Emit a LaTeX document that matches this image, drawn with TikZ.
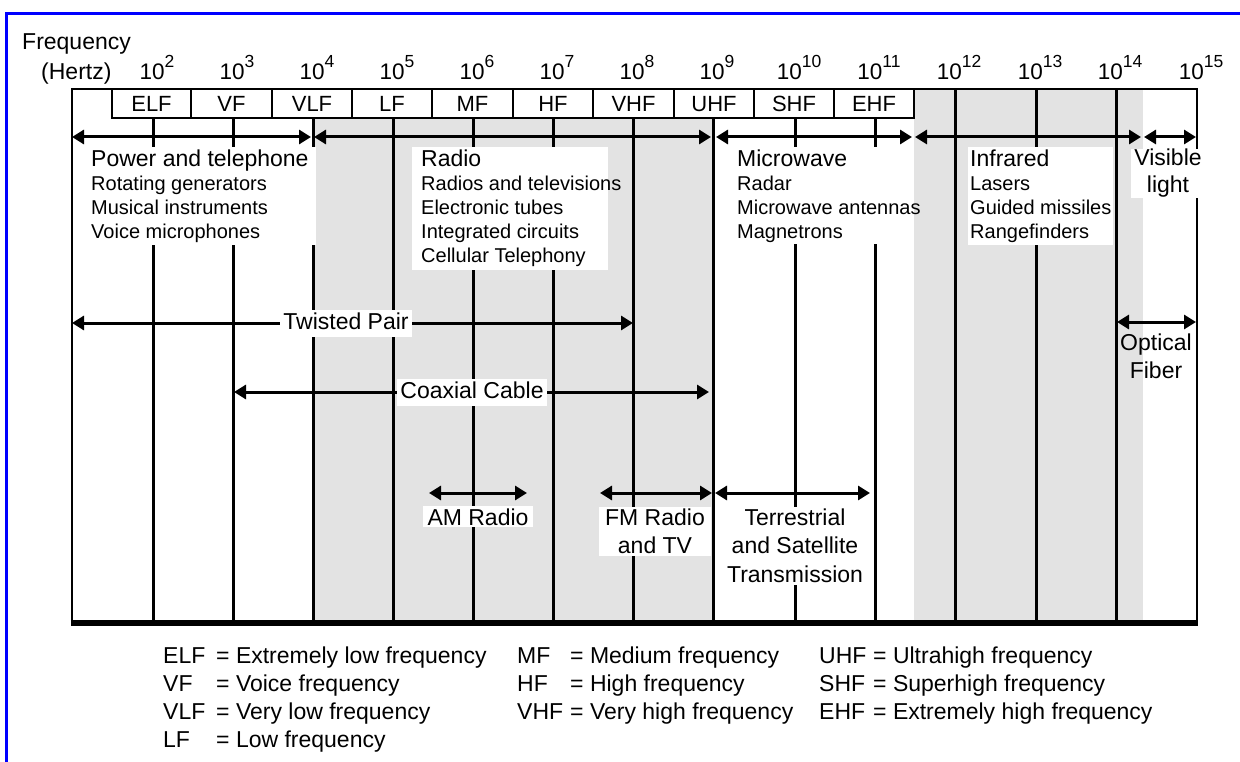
\documentclass[tikz,border=0pt]{standalone}
\usepackage{fontspec}
\setmainfont{Liberation Sans}
\usetikzlibrary{arrows.meta}
\definecolor{bandgray}{RGB}{227,227,227}
\definecolor{frameblue}{RGB}{0,0,255}
\newcommand\FontHead{\fontsize{23}{24}\selectfont}
\newcommand\FontSub{\fontsize{20}{24}\selectfont}
\newcommand\FontLab{\fontsize{23}{28.5}\selectfont}
\newcommand\FontBand{\fontsize{22}{24}\selectfont}
\newcommand\FontDec{\fontsize{22.5}{24}\selectfont}
\newcommand\FontExp{\fontsize{17.5}{18}\selectfont}
\begin{document}
\begin{tikzpicture}[x=1pt,y=-1pt,
  every node/.style={inner sep=0pt, text=black},
  dbl/.style={line width=3pt, {Triangle[length=12pt,width=14pt]}-{Triangle[length=12pt,width=14pt]}},
  decline/.style={line width=3pt},
  bandbox/.style={draw, line width=1.5pt, fill=white, font=\FontBand, minimum height=29pt, text height=16pt, text depth=0pt},
  block/.style={fill=white, align=left, anchor=north west, inner xsep=7pt, inner ysep=2.5pt, font=\FontSub},
  lab/.style={fill=white, font=\FontLab, inner xsep=3pt, inner ysep=2pt},
  midlab/.style={lab, text height=17pt, text depth=4pt, inner ysep=3pt},
  legend/.style={font=\FontLab, anchor=base west, inner sep=0pt}
]
\useasboundingbox (0,0) rectangle (1240,762);
% blue frame
\draw[frameblue, line width=3.5pt] (6.5,762) -- (6.5,13.5) -- (1240,13.5);
% gray bands
\fill[bandgray] (313,118) rectangle (713,623);
\fill[bandgray] (914,89) rectangle (1143,623);
% decade lines
\foreach \x in {153,233,313,393,473,553,633,713,795,875}
  \draw[decline] (\x,118) -- (\x,623);
\foreach \x in {955,1036,1116}
  \draw[decline] (\x,89) -- (\x,623);
% main frame
\draw[line width=2.5pt] (72,623) -- (72,89) -- (1197,89) -- (1197,623);
\draw[line width=5.5pt] (70.75,623) -- (1198.25,623);
% band boxes
\foreach \a/\b/\lab in {112/191/ELF,191/272/VF,272/352/VLF,352/432/LF,432/513/MF,513/593/HF,593/674/VHF,674/754/UHF,754/834/SHF,834/914/EHF}{
  \pgfmathsetmacro\w{\b-\a}
  \node[bandbox, minimum width=\w pt] (band\lab) at ({(\a+\b)/2},103.5) {\lab};
}
% axis labels
\node[font=\fontsize{23}{24}\selectfont, anchor=base west] (freq) at (22,50) {Frequency};
\node[font=\fontsize{23}{24}\selectfont, anchor=base west] (hertz) at (41,80) {(Hertz)};
\foreach \x/\e in {153/2,233/3,313/4,393/5,473/6,553/7,633/8,713/9,795/10,875/11,955/12,1036/13,1116/14,1197/15}
  \node[font=\FontDec, anchor=base] (dec\e) at (\x+4,80) {10\raisebox{12pt}{\FontExp \e}};
% arrow end points
\coordinate (pA) at (72,137);   \coordinate (pB) at (311,137);
\coordinate (rA) at (314,137);  \coordinate (rB) at (711,137);
\coordinate (mA) at (716,137);  \coordinate (mB) at (912,137);
\coordinate (iA) at (915,137);  \coordinate (iB) at (1141,137);
\coordinate (vA) at (1144,137); \coordinate (vB) at (1196,137);
\coordinate (tpA) at (72,323);  \coordinate (tpB) at (633,323);
\coordinate (ofA) at (1117,322);\coordinate (ofB) at (1196,322);
\coordinate (cxA) at (234,392); \coordinate (cxB) at (709,392);
\coordinate (amA) at (429,493); \coordinate (amB) at (527,493);
\coordinate (fmA) at (600,493); \coordinate (fmB) at (712,493);
\coordinate (tsA) at (715,493); \coordinate (tsB) at (870,493);
\draw[dbl] (pA) -- (pB);
\draw[dbl] (rA) -- (rB);
\draw[dbl] (mA) -- (mB);
\draw[dbl] (iA) -- (iB);
\draw[dbl] (vA) -- (vB);
\draw[dbl] (tpA) -- (tpB);
\draw[dbl] (ofA) -- (ofB);
\draw[dbl] (cxA) -- (cxB);
\draw[dbl] (amA) -- (amB);
\draw[dbl] (fmA) -- (fmB);
\draw[dbl] (tsA) -- (tsB);
% region blocks (white backgrounds narrower than the text, as printed)
\fill[white] (412,147) rectangle (608,270);
\fill[white] (733,147) rectangle (912,244);
\node[block] (power) at (84,147) {{\FontHead Power and telephone}\\Rotating generators\\Musical instruments\\Voice microphones};
\node[block, fill=none, inner xsep=9pt] (radio) at (412,147) {{\FontHead Radio}\\Radios and televisions\\Electronic tubes\\Integrated circuits\\Cellular Telephony};
\node[block, fill=none, inner xsep=3pt] (micro) at (734,147) {{\FontHead Microwave}\\Radar\\Microwave antennas\\Magnetrons};
\node[block, inner xsep=2pt] (infra) at (968,147) {{\FontHead Infrared}\\Lasers\\Guided missiles\\Rangefinders};
\node[lab, align=center, anchor=north, inner ysep=0pt, font=\fontsize{23}{27}\selectfont] (visible) at (1168,149) {Visible\\light};
% media labels
\node[midlab] (twisted) at (346,323) {Twisted Pair};
\node[midlab] (coax) at (472,392) {Coaxial Cable};
\node[align=center, anchor=north, font=\fontsize{23}{28}\selectfont] (optical) at (1156,333.5) {Optical\\Fiber};
\node[lab, anchor=base, inner xsep=4.5pt] (am) at (478,525) {AM Radio};
\node[lab, align=center, anchor=north, inner xsep=6pt] (fm) at (655,506.5) {FM Radio\\and TV};
\node[lab, align=center, anchor=north] (terr) at (795,506.5) {Terrestrial\\and Satellite\\Transmission};
% legend
\node[legend] (l1a) at (163,663) {ELF}; \node[legend] (l1b) at (216,663) {= Extremely low frequency};
\node[legend] (l2a) at (163,691) {VF};  \node[legend] (l2b) at (216,691) {= Voice frequency};
\node[legend] (l3a) at (163,719) {VLF}; \node[legend] (l3b) at (216,719) {= Very low frequency};
\node[legend] (l4a) at (163,747) {LF};  \node[legend] (l4b) at (216,747) {= Low frequency};
\node[legend] (l5a) at (517,663) {MF};  \node[legend] (l5b) at (570,663) {= Medium frequency};
\node[legend] (l6a) at (517,691) {HF};  \node[legend] (l6b) at (570,691) {= High frequency};
\node[legend] (l7a) at (517,719) {VHF}; \node[legend] (l7b) at (570,719) {= Very high frequency};
\node[legend] (l8a) at (819,663) {UHF}; \node[legend] (l8b) at (873,663) {= Ultrahigh frequency};
\node[legend] (l9a) at (819,691) {SHF}; \node[legend] (l9b) at (873,691) {= Superhigh frequency};
\node[legend] (l10a) at (819,719) {EHF}; \node[legend] (l10b) at (873,719) {= Extremely high frequency};
\end{tikzpicture}
\end{document}
